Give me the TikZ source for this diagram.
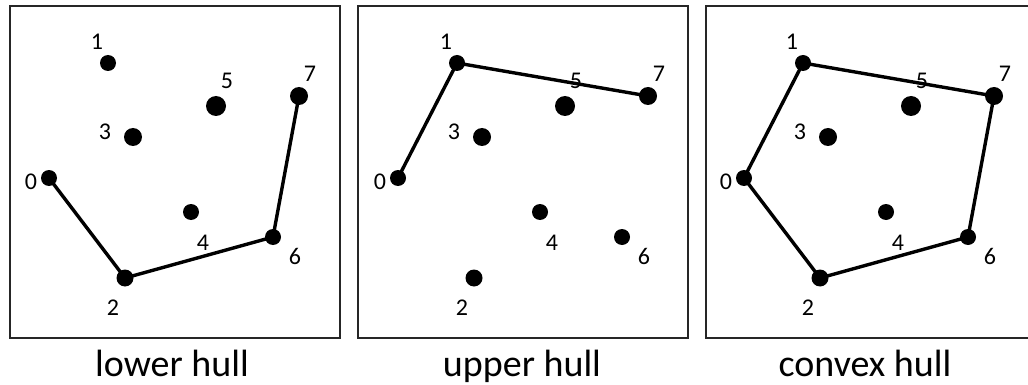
\documentclass[tikz,border=0pt]{standalone}
\usepackage{fontspec}
\setmainfont{Carlito}
\begin{document}
\begin{tikzpicture}[x=1pt,y=-1pt,
  dot/.style={circle,fill=black,inner sep=0pt,minimum size=#1},
  lab/.style={font=\fontsize{24}{24}\selectfont,inner sep=0pt},
  hull/.style={line width=3.4pt,line join=round,line cap=round},
  panel/.style={draw=black!85,line width=1.6pt},
  title/.style={font=\fontsize{38}{38}\selectfont,anchor=base,inner sep=0pt}]
\useasboundingbox (0,0) rectangle (1028,385);
% panels
\node[panel,minimum width=330pt,minimum height=332pt,anchor=north west,inner sep=0pt] (boxa) at (9,5) {};
\node[panel,minimum width=330pt,minimum height=332pt,anchor=north west,inner sep=0pt] (boxb) at (357,5) {};
\node[panel,minimum width=330pt,minimum height=332pt,anchor=north west,inner sep=0pt] (boxc) at (705,5) {};
\node[title] (ta) at (172,376) {lower hull};
\node[title] (tb) at (522,376) {upper hull};
\node[title] (tc) at (865,376) {convex hull};
% points
\foreach \p/\dx in {a/0,b/349,c/695}{
  \begin{scope}[xshift=\dx]
  \node[dot=16pt] (\p0) at (49,178) {};
  \node[dot=16pt] (\p1) at (108,63) {};
  \node[dot=17pt] (\p2) at (125,278) {};
  \node[dot=18pt] (\p3) at (133,137) {};
  \node[dot=16pt] (\p4) at (191,212) {};
  \node[dot=20pt] (\p5) at (216,106) {};
  \node[dot=16pt] (\p6) at (273,237) {};
  \node[dot=18pt] (\p7) at (299,96) {};
  \node[lab] (\p l0) at (31,182) {0};
  \node[lab] (\p l1) at (97,42) {1};
  \node[lab] (\p l2) at (113,308) {2};
  \node[lab] (\p l3) at (105,132) {3};
  \node[lab] (\p l4) at (203,243) {4};
  \node[lab] (\p l5) at (227,81) {5};
  \node[lab] (\p l6) at (295,256) {6};
  \node[lab] (\p l7) at (310,74) {7};
  \end{scope}
}
% hulls
\draw[hull] (a0.center) -- (a2.center) -- (a6.center) -- (a7.center);
\draw[hull] (b0.center) -- (b1.center) -- (b7.center);
\draw[hull] (c0.center) -- (c1.center) -- (c7.center) -- (c6.center) -- (c2.center) -- cycle;
\end{tikzpicture}
\end{document}
